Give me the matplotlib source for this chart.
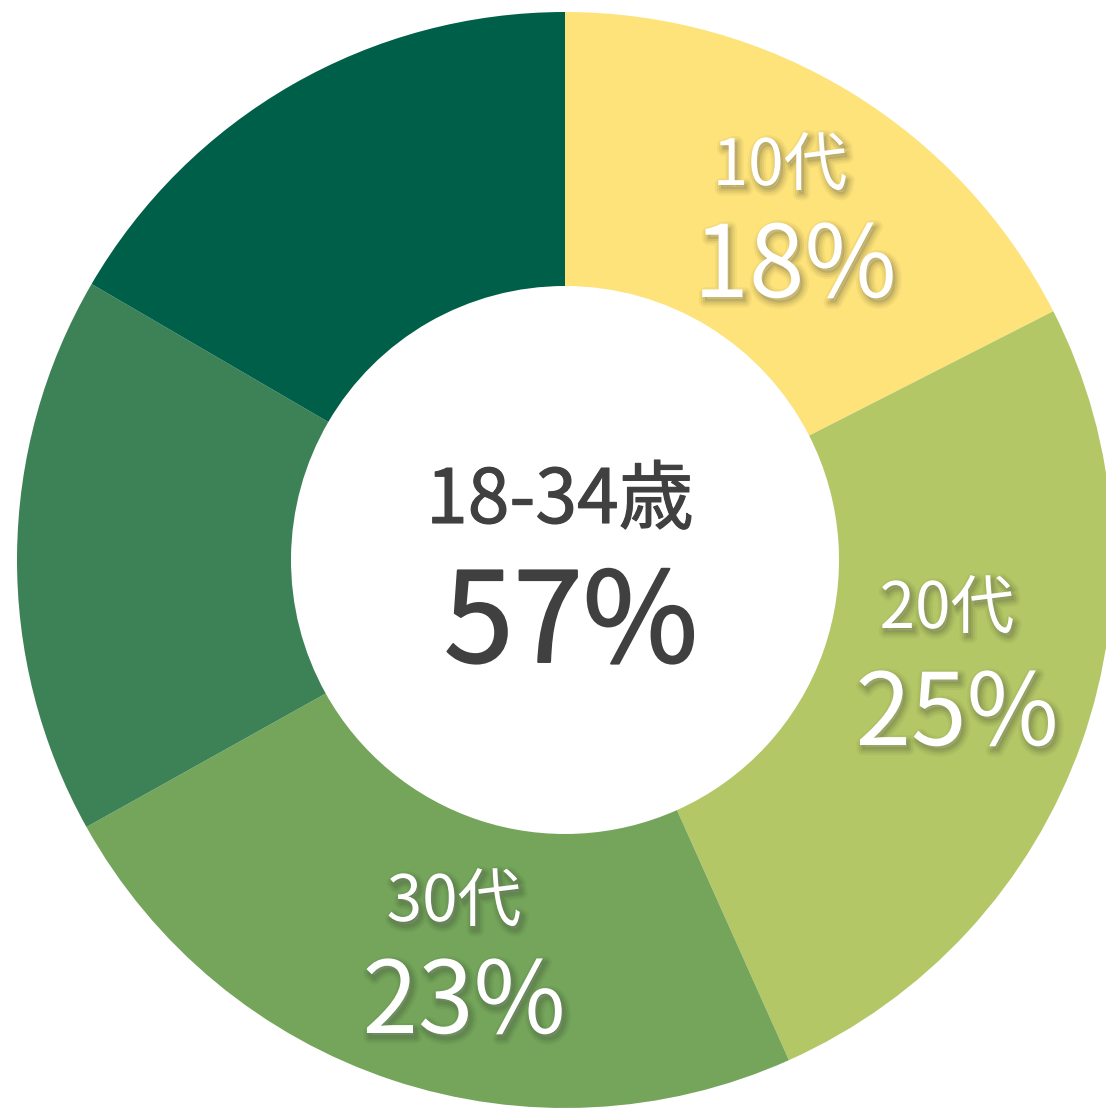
import matplotlib.pyplot as plt
import matplotlib.patheffects as pe

plt.rcParams['font.family'] = ['Noto Sans CJK JP', 'DejaVu Sans']

# slice shares (clockwise from 12 o'clock)
shares = [17.5, 25.8, 23.6, 16.5, 16.6]
colors = ["#FDE37A", "#B4C766", "#74A55B", "#3D8256", "#005F49"]

# labelled slices
age_labels = ["10代", "20代", "30代"]
pct_labels = ["18%", "25%", "23%"]

center_title = "18-34歳"
center_value = "57%"

W, H = 1106, 1108
CX, CY, R = 565, 560, 548


def to_data(px, py):
    return (px - CX) / R, (CY - py) / R


fig = plt.figure(figsize=(W / 100, H / 100), dpi=100)
ax = fig.add_axes([(CX - R) / W, (H - CY - R) / H, 2 * R / W, 2 * R / H])
ax.pie(shares, colors=colors, startangle=90, counterclock=False,
       radius=1, wedgeprops=dict(width=0.5, linewidth=0))
ax.set_xlim(-1, 1)
ax.set_ylim(-1, 1)
ax.set_aspect("equal")
ax.axis("off")

# soft drop shadow: a few wide, faint offset strokes under the glyphs
shadow = [pe.Stroke(offset=(2, -3), linewidth=w, foreground="black", alpha=a)
          for w, a in ((9, 0.04), (6, 0.05), (3, 0.07))]
shadow += [pe.withSimplePatchShadow(offset=(2, -3), shadow_rgbFace="black", alpha=0.12)]

# (x, baseline y) in pixels for each label pair
age_pos = [(780, 185), (947, 628), (454, 921)]
pct_pos = [(795, 297), (957, 745), (464, 1033)]

for lab, (px, py) in zip(age_labels, age_pos):
    x, y = to_data(px, py)
    ax.text(x, y, lab, color="white", fontsize=46, ha="center", va="baseline",
            path_effects=shadow)
for lab, (px, py) in zip(pct_labels, pct_pos):
    x, y = to_data(px, py)
    ax.text(x, y, lab, color="white", fontsize=72, ha="center", va="baseline",
            path_effects=shadow)

# medium weight: regular glyphs with a thin stroke of the same colour
x, y = to_data(560, 523)
ax.text(x, y, center_title, color="#404040", fontsize=54, ha="center", va="baseline",
        path_effects=[pe.withStroke(linewidth=0.8, foreground="#404040")])
x, y = to_data(571, 662)
ax.text(x, y, center_value, color="#404040", fontsize=90, ha="center", va="baseline",
        path_effects=[pe.withStroke(linewidth=1.4, foreground="#404040")])

fig.savefig("out.png", dpi=100)
